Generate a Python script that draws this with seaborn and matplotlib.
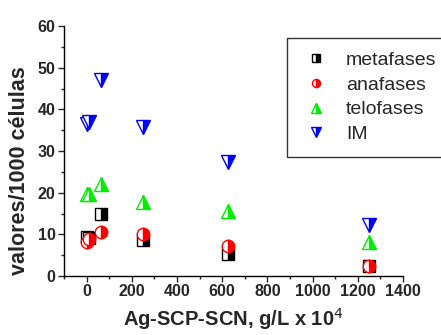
import matplotlib
matplotlib.use('Agg')
import matplotlib.pyplot as plt
import seaborn as sns
import pandas as pd
from matplotlib.ticker import MultipleLocator

# concentraciones (g/L x 10^4)
conc = [0, 12.5, 62.5, 250, 625, 1250]
metafases = [9.3, 9.2, 15.0, 8.6, 5.4, 2.4]
anafases = [8.2, 8.8, 10.5, 10.1, 7.3, 2.5]
telofases = [19.7, 19.8, 22.1, 17.7, 15.6, 8.1]
im = [36.6, 37.0, 47.0, 35.7, 27.4, 12.2]

series = ['metafases', 'anafases', 'telofases', 'IM']
valores = [metafases, anafases, telofases, im]
colores = ['black', 'red', '#00ee00', 'blue']
marcadores = ['s', 'o', '^', 'v']
tamanos = [8, 9, 10.5, 10.5]

sns.set_style('ticks')
plt.rcParams['font.family'] = ['Liberation Sans', 'DejaVu Sans']

fig = plt.figure(figsize=(4.41, 3.35), dpi=100)
ax = fig.add_axes([0.145, 0.176, 0.769, 0.746])

for nombre, vals, c, m, s in zip(series, valores, colores, marcadores, tamanos):
    df = pd.DataFrame({'x': conc, 'y': vals})
    sns.lineplot(data=df, x='x', y='y', ax=ax, estimator=None, sort=False,
                 linestyle='', marker=m, markersize=s, fillstyle='right',
                 markerfacecolor=c, markerfacecoloralt='white',
                 markeredgecolor=c, markeredgewidth=1.0, label=nombre)

ax.set_xlim(-100, 1400)
ax.set_ylim(0, 60)
ax.xaxis.set_major_locator(MultipleLocator(200))
ax.xaxis.set_minor_locator(MultipleLocator(100))
ax.yaxis.set_major_locator(MultipleLocator(10))
ax.yaxis.set_minor_locator(MultipleLocator(5))
ax.tick_params(which='major', length=4, width=1, direction='out', labelsize=11.5, pad=2)
ax.tick_params(which='minor', length=2.5, width=1, direction='out')
for lab in ax.get_xticklabels() + ax.get_yticklabels():
    lab.set_fontweight('bold')
sns.despine(ax=ax)
for sp in ['left', 'bottom']:
    ax.spines[sp].set_color('black')
    ax.spines[sp].set_linewidth(1)

ax.set_xlabel('Ag-SCP-SCN, g/L x 10$^{4}$', fontsize=14.5, fontweight='bold')
ax.xaxis.set_label_coords(0.5, -0.12)
ax.set_ylabel('valores/1000 células', fontsize=15.5, fontweight='bold')
ax.yaxis.set_label_coords(-0.13, 0.42)
ax.yaxis.label.set_va('center')

leg = ax.legend(loc='upper left', bbox_to_anchor=(287 / 441, 1 - 38 / 335),
                bbox_transform=fig.transFigure, frameon=True,
                fancybox=False, edgecolor='black', fontsize=14, markerscale=0.65,
                handlelength=1.58, handletextpad=0.75, borderpad=0.7,
                labelspacing=0.36, borderaxespad=0)
leg.get_frame().set_linewidth(1)

fig.savefig('out.png', dpi=100)
